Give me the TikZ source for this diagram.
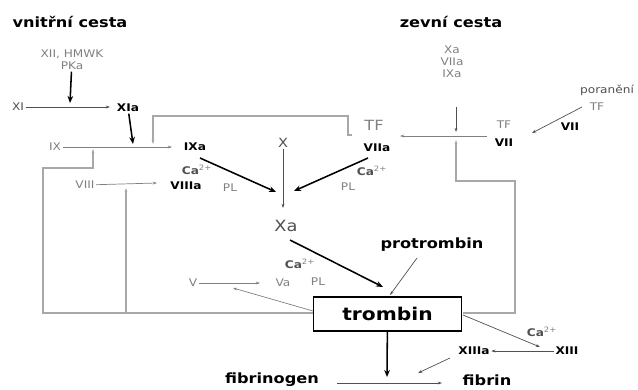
\documentclass[tikz,border=0pt]{standalone}
\usepackage{fontspec}
\setmainfont{DejaVu Sans}[FakeStretch=1.15]
\usetikzlibrary{arrows.meta}
\definecolor{lgray}{HTML}{A8A8A8}
\definecolor{mgray}{HTML}{808080}
\definecolor{dgray}{HTML}{505050}
\newcommand{\caion}{\textbf{Ca}\textsuperscript{\color{mgray}2+}}
\begin{document}
\begin{tikzpicture}[x=0.025cm,y=-0.025cm,
  lbl/.style={text=mgray,inner sep=1pt,font=\fontsize{7.5}{8.5}\selectfont},
  dlbl/.style={text=dgray,inner sep=1pt,font=\fontsize{7.5}{8.5}\selectfont},
  bld/.style={inner sep=1pt,font=\fontsize{7.5}{9}\selectfont\bfseries},
  big/.style={inner sep=1pt,font=\fontsize{10}{12}\selectfont\bfseries},
  gline/.style={draw=lgray,line width=0.8pt,-{Stealth[length=3pt,width=2pt]}},
  garr/.style={draw=dgray,line width=0.5pt,-{Stealth[length=3pt,width=2pt]}},
  barr/.style={draw=black,line width=1.1pt,-{Stealth[length=5pt,width=4pt]}}]
\useasboundingbox (0,0) rectangle (638,389);

% titles
\node[big] at (70,22) (vc) {vnitřní cesta};
\node[big] at (451,22) (zc) {zevní cesta};

% vnitrni cesta
\node[lbl,align=center] at (72,60) (XII) {XII, HMWK\\PKa};
\node[dlbl] at (18,107) (XI) {XI};
\node[bld] at (128,108) (XIa) {XIa};
\node[lbl] at (55,147) (IX) {IX};
\node[bld] at (195,147) (IXa) {IXa};
\node[lbl] at (85,185) (VIII) {VIII};
\node[bld] at (186,186) (VIIIa) {VIIIa};
\node[dlbl] at (197,170) (Ca1) {\caion};
\node[lbl] at (230,188) (PL1) {PL};

\coordinate (pk) at (70,103);
\coordinate (j1) at (133,144);
\coordinate (j2) at (153,144);
\coordinate (j3) at (93,149);
\coordinate (j4) at (126,188);

\draw[barr] (XII) -- (pk);
\draw[garr] (XI) -- (110,107);
\draw[barr] (XIa) -- (j1);
\draw[garr,draw=mgray] (IX) -- (172,147);
\draw[garr,draw=mgray] (VIII) -- (157,183);

% zpetne vazby vlevo
\draw[gline] (352,135) -- (348,135) -- (348,116) -- (153,116) -- (j2);
\draw[gline] (313,313) -- (43,313) -- (43,168) -- (93,168) -- (j3);
\draw[gline] (126,313) -- (j4);

% stred
\node[text=dgray,inner sep=1pt,font=\fontsize{9}{10}\selectfont] at (283,143) (X) {X};
\node[text=dgray,inner sep=1pt,font=\fontsize{11}{13}\selectfont] at (286,226) (Xa) {Xa};
\node[text=mgray,inner sep=1pt,font=\fontsize{10}{12}\selectfont] at (374,125) (TF1) {TF};
\node[bld] at (377,148) (VIIa) {VIIa};
\node[dlbl] at (372,171) (Ca2) {\caion};
\node[lbl] at (348,187) (PL2) {PL};

\draw[barr] (200,158) -- (276,192);
\draw[barr] (368,158) -- (294,191);
\draw[garr] (X) -- (283,208);

% zevni cesta
\node[lbl,align=center] at (452,62) (stack) {Xa\\VIIa\\IXa};
\node[lbl] at (504,125) (TF2) {TF};
\node[bld] at (504,143) (VII1) {VII};
\node[dlbl] at (607,90) (por) {poranění};
\node[lbl] at (597,107) (TF3) {TF};
\node[bld] at (570,127) (VII2) {VII};

\coordinate (j5) at (456,132);
\coordinate (j6) at (456,140);
\draw[garr] (456,107) -- (j5);
\draw[garr,draw=mgray] (487,136) -- (400,136);
\draw[garr] (582,107) -- (532,133);
\draw[gline] (463,313) -- (515,313) -- (515,181) -- (456,181) -- (j6);

% trombin
\node[draw,line width=0.9pt,minimum width=105.6pt,minimum height=24.1pt,
  inner sep=0pt,font=\fontsize{12.5}{15}\selectfont\bfseries] at (387.5,314) (trombin) {trombin};
\node[bld,font=\fontsize{10}{12}\selectfont\bfseries] at (432,245) (protrombin) {protrombin};
\node[dlbl] at (300,264) (Ca3) {\caion};
\node[lbl] at (318,282) (PL3) {PL};
\node[lbl] at (193,283) (V) {V};
\node[lbl] at (283,283) (Va) {Va};

\draw[barr] (290,240) -- (383,287);
\draw[garr] (417,258) -- (390,295);
\draw[garr,draw=mgray] (V) -- (260,283);
\draw[garr,draw=mgray] (313,311) -- (233,288);

% fibrin
\node[bld,font=\fontsize{10}{12}\selectfont\bfseries] at (272,380) (fibrinogen) {fibrinogen};
\node[bld,font=\fontsize{10}{12}\selectfont\bfseries] at (487,380) (fibrin) {fibrin};
\node[bld] at (567,351) (XIII) {XIII};
\node[bld] at (474,351) (XIIIa) {XIIIa};
\node[dlbl] at (542,332) (Ca4) {\caion};

\coordinate (j7) at (418,373);
\draw[barr] (trombin) -- (387,377);
\draw[garr] (337,383) -- (442,383);
\draw[garr] (463,315) -- (540,347);
\draw[garr] (XIII) -- (XIIIa);
\draw[garr] (450,358) -- (j7);
\end{tikzpicture}
\end{document}
